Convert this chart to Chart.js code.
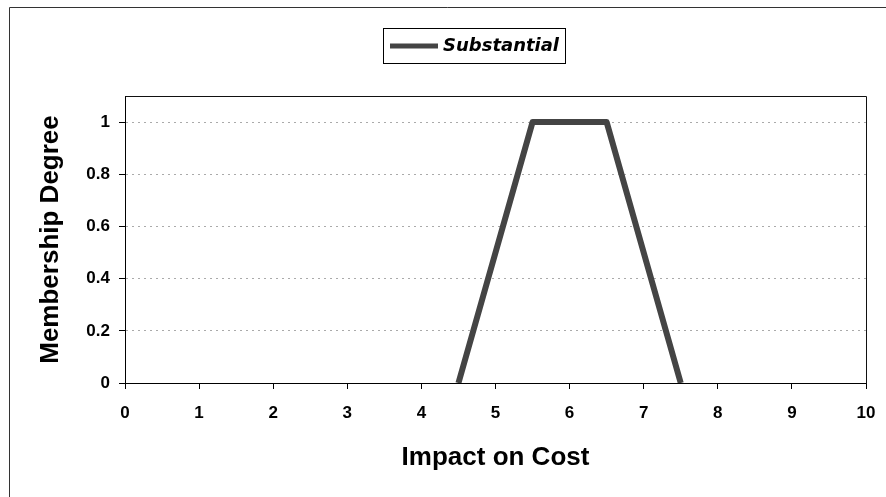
<!DOCTYPE html>
<html>
<head>
<meta charset="utf-8">
<script src="https://cdn.jsdelivr.net/npm/chart.js@4/dist/chart.umd.min.js"></script>
<style>
  html, body { margin: 0; padding: 0; background: #fff; }
  #wrap { width: 886px; height: 497px; }
</style>
</head>
<body>
<div id="wrap"><canvas id="chart" width="886" height="497"></canvas></div>
<script>
// Membership function "Substantial" over the impact-on-cost scale
const seriesName = 'Substantial';
const impactX = [4.5, 5.5, 6.5, 7.5];
const membership = [0, 1, 1, 0];
const xTicks = [0, 1, 2, 3, 4, 5, 6, 7, 8, 9, 10];
const yTicks = [0, 0.2, 0.4, 0.6, 0.8, 1];
const xTitle = 'Impact on Cost';
const yTitle = 'Membership Degree';

const FONT = '"Liberation Sans", Arial, sans-serif';

// Thin outer frame (left and top edges)
const outerFrame = {
  id: 'outerFrame',
  beforeDraw(chart) {
    const ctx = chart.ctx;
    ctx.save();
    ctx.strokeStyle = '#333';
    ctx.lineWidth = 1;
    ctx.beginPath();
    ctx.moveTo(9.5, 497);
    ctx.lineTo(9.5, 7.5);
    ctx.lineTo(886, 7.5);
    ctx.stroke();
    ctx.restore();
  }
};

// Closes the plot area with top and right edges
const plotFrame = {
  id: 'plotFrame',
  afterDraw(chart) {
    const { left, top, right, bottom } = chart.chartArea;
    const ctx = chart.ctx;
    ctx.save();
    ctx.strokeStyle = '#111';
    ctx.lineWidth = 1;
    ctx.beginPath();
    ctx.moveTo(Math.round(left) + 0.5, Math.round(top) + 0.5);
    ctx.lineTo(Math.round(right) + 0.5, Math.round(top) + 0.5);
    ctx.lineTo(Math.round(right) + 0.5, Math.round(bottom) + 0.5);
    ctx.stroke();
    ctx.restore();
  }
};

// Boxed legend above the plot
const boxedLegend = {
  id: 'boxedLegend',
  afterDraw(chart) {
    const ctx = chart.ctx;
    const ds = chart.data.datasets[0];
    ctx.save();
    ctx.strokeStyle = '#000';
    ctx.lineWidth = 1;
    ctx.strokeRect(383.5, 28.5, 182, 35);
    ctx.strokeStyle = ds.borderColor;
    ctx.lineWidth = 5;
    ctx.beginPath();
    ctx.moveTo(390, 46);
    ctx.lineTo(438, 46);
    ctx.stroke();
    ctx.fillStyle = '#000';
    ctx.font = 'italic bold 18px "DejaVu Sans", sans-serif';
    ctx.textBaseline = 'middle';
    ctx.textAlign = 'left';
    ctx.fillText(ds.label, 443, 46);
    ctx.restore();
  }
};

new Chart(document.getElementById('chart'), {
  type: 'line',
  data: {
    datasets: [{
      label: seriesName,
      data: impactX.map((x, i) => ({ x, y: membership[i] })),
      borderColor: '#444444',
      borderWidth: 6,
      pointRadius: 0,
      tension: 0,
      borderJoinStyle: 'round',
      clip: { left: 6, right: 6, top: 6, bottom: 0 }
    }]
  },
  options: {
    responsive: false,
    animation: false,
    layout: { padding: { left: 10, right: 20, top: 96, bottom: 0 } },
    plugins: {
      legend: { display: false },
      tooltip: { enabled: false }
    },
    scales: {
      x: {
        type: 'linear',
        min: 0,
        max: 10,
        afterBuildTicks(scale) { scale.ticks = xTicks.map(v => ({ value: v })); },
        afterFit(scale) { scale.height = 114; scale.paddingRight = 0; },
        grid: { drawOnChartArea: false, drawTicks: true, tickLength: 6, tickColor: '#000' },
        border: { color: '#000', width: 1 },
        ticks: { color: '#000', padding: 14, font: { family: FONT, size: 17, weight: 'bold' } },
        title: {
          display: true, text: xTitle, color: '#000',
          font: { family: FONT, size: 26, weight: 'bold' },
          padding: { top: 0, bottom: 24 }
        }
      },
      y: {
        min: 0,
        max: 1.1,
        afterBuildTicks(scale) { scale.ticks = yTicks.map(v => ({ value: v })); },
        afterFit(scale) { scale.width = 115; },
        grid: {
          color: ctx => (ctx.tick && ctx.tick.value === 0 ? 'rgba(0,0,0,0)' : '#aaaaaa'),
          lineWidth: 1,
          drawTicks: true,
          tickLength: 6,
          tickColor: '#000',
          tickBorderDash: []
        },
        border: { color: '#000', width: 1, dash: [2, 4] },
        ticks: {
          color: '#000', padding: 9,
          font: { family: FONT, size: 17, weight: 'bold' },
          callback: v => String(v)
        },
        title: {
          display: true, text: yTitle, color: '#000',
          font: { family: FONT, size: 26, weight: 'bold' },
          padding: { top: 25, bottom: 0 }
        }
      }
    }
  },
  plugins: [outerFrame, plotFrame, boxedLegend]
});
</script>
</body>
</html>
